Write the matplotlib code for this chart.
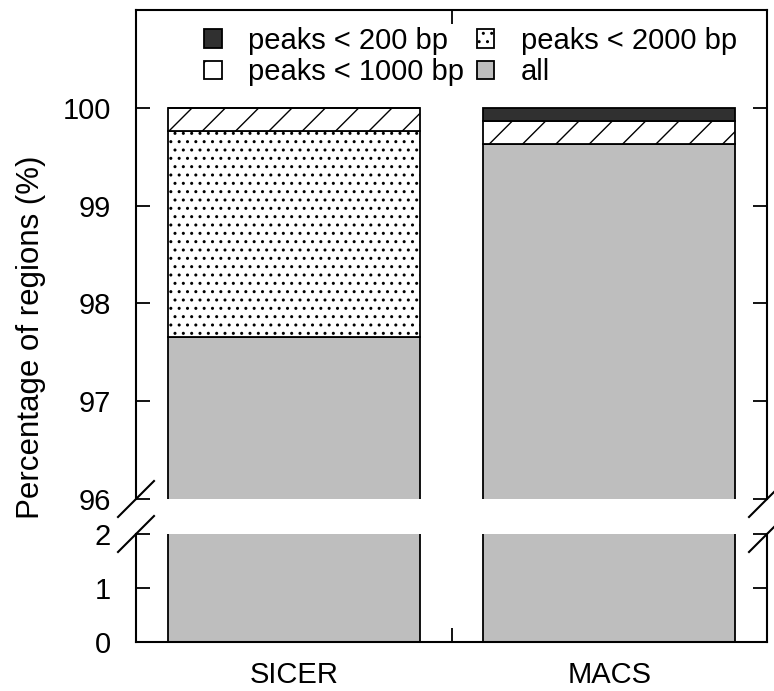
import matplotlib
matplotlib.use("Agg")
import matplotlib.pyplot as plt
import numpy as np

plt.rcParams['font.family'] = ['Liberation Sans', 'DejaVu Sans']
plt.rcParams['hatch.linewidth'] = 1.0

categories = ["SICER", "MACS"]
seg_all = [97.66, 99.63]
seg_2000 = [2.10, 0.0]
seg_1000 = [0.24, 0.23]
seg_200 = [0.0, 0.14]

labels = ["all", "peaks < 2000 bp", "peaks < 1000 bp", "peaks < 200 bp"]
segments = [seg_all, seg_2000, seg_1000, seg_200]
colors = ["#bebebe", "white", "white", "#303030"]
hatches = [None, "..", "/", None]

top_ticks = [96, 97, 98, 99, 100]
bot_ticks = [0, 1, 2]

W, H = 774, 691
fig = plt.figure(figsize=(W / 100, H / 100), dpi=100)
L, R = 136, 767
axT = fig.add_axes([L / W, 1 - 499 / H, (R - L) / W, 489 / H])
axB = fig.add_axes([L / W, 1 - 642 / H, (R - L) / W, 108 / H])

x = np.arange(len(categories))
fs = 21
handles = {}
for ax in (axT, axB):
    bottom = np.zeros(len(categories))
    for seg, lab, col, hat in zip(segments, labels, colors, hatches):
        vals = np.array(seg)
        bars = ax.bar(x, vals, 0.8, bottom=bottom, color=col, edgecolor="black",
                      linewidth=1.3, hatch=hat, label=lab)
        handles[lab] = bars
        bottom = bottom + vals
    ax.set_xlim(-0.5, 1.5)
    for s in ax.spines.values():
        s.set_linewidth(1.5)
    ax.tick_params(axis="y", direction="in", length=10, width=1.3, labelsize=fs,
                   pad=18, right=True)
    ax.set_xticks(x)
    ax.set_xticks([0.5], minor=True)
    ax.tick_params(axis="x", which="major", length=0, labelsize=fs, pad=14)
    ax.tick_params(axis="x", which="minor", direction="in", length=10, width=1.3)

axT.set_ylim(96, 101)
axT.set_yticks(top_ticks)
axT.spines["bottom"].set_visible(False)
axT.tick_params(axis="x", which="both", bottom=False, labelbottom=False, top=True)
axT.tick_params(axis="x", which="major", top=False)

axB.set_ylim(0, 2)
axB.set_yticks(bot_ticks)
axB.spines["top"].set_visible(False)
axB.set_xticklabels(categories)

# break marks
dpx = 18
kw = dict(color="black", linewidth=1.5, clip_on=False)
for ax, yb, hpx in ((axT, 0, 489), (axB, 1, 108)):
    dx = dpx / (R - L)
    dy = dpx / hpx
    for xb in (0, 1):
        ax.plot([xb - dx, xb + dx], [yb - dy, yb + dy], transform=ax.transAxes, **kw)

order = ["peaks < 200 bp", "peaks < 1000 bp", "peaks < 2000 bp", "all"]
axT.legend([handles[k] for k in order], order, ncol=2, loc="upper left",
           bbox_to_anchor=(204 / W, 1 - 27 / H), bbox_transform=fig.transFigure,
           frameon=False, fontsize=fs, handlelength=0.6, handleheight=0.6,
           handletextpad=0.9, columnspacing=0.45, labelspacing=0.12,
           borderpad=0, borderaxespad=0)

fig.text(31 / W, 1 - 337 / H, "Percentage of regions (%)", rotation=90,
         ha="center", va="center", fontsize=22.5)

fig.savefig("out.png", dpi=100)
